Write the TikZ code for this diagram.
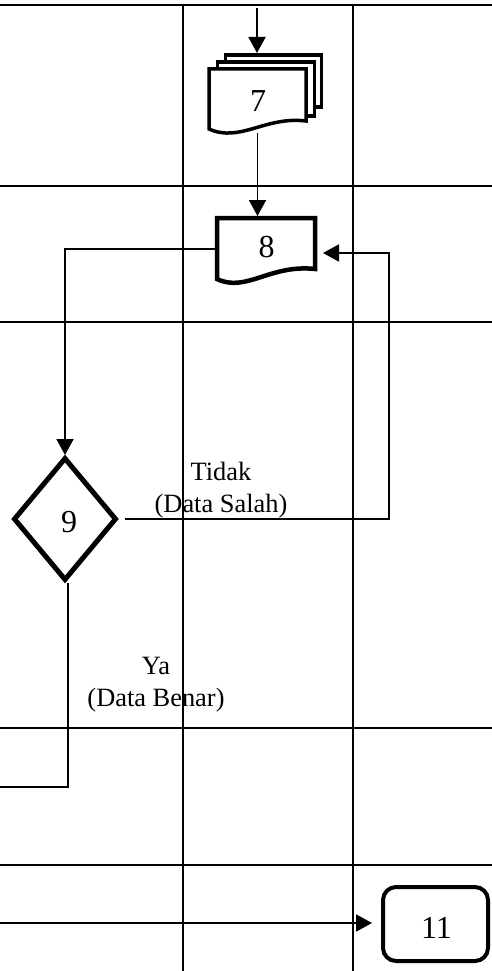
\documentclass[tikz,border=0pt]{standalone}
\usepackage{fontspec}
\setmainfont{Liberation Serif}
\usetikzlibrary{arrows.meta,shapes.geometric}
\begin{document}
\begin{tikzpicture}[x=1pt,y=-1pt,
  gridline/.style={line width=1.6pt},
  conn/.style={line width=1.9pt},
  arr/.style={conn,-{Triangle[length=16pt,width=17pt]}},
  lbl/.style={font=\fontsize{26.4pt}{32pt}\selectfont, align=center, inner sep=0pt},
  num/.style={font=\fontsize{32pt}{36pt}\selectfont, inner sep=0pt},
  hidden/.style={draw=none, inner sep=0pt, outer sep=0pt},
  docA/.style={line width=3.5pt, line join=miter, fill=white},
  docB/.style={line width=4.5pt, line join=miter, fill=white}]
\useasboundingbox (0,0) rectangle (492,971);
% grid
\draw[gridline] (0,5) -- (492,5);
\draw[gridline] (0,186) -- (492,186);
\draw[gridline] (0,322) -- (492,322);
\draw[gridline] (0,728) -- (492,728);
\draw[gridline] (0,865) -- (492,865);
\draw[gridline] (183,5) -- (183,971);
\draw[gridline] (353,5) -- (353,971);
% document 7 (multi-document)
\draw[docA] (225.5,55) rectangle (321.5,107);
\draw[docA] (217.5,62) rectangle (314.5,116);
\draw[docA] (209,129) -- (209,69) -- (306,69) -- (306,121)
  .. controls (265,116) and (240,143) .. (209,129) -- cycle;
\node[hidden, minimum width=101pt, minimum height=66pt] (d7) at (257.5,100) {};
\node[hidden, minimum width=99pt, minimum height=55pt] (d7b) at (273.5,80.5) {};
\node[num] (n7) at (258,101) {7};
% document 8
\draw[docB] (217,279) -- (217,218) -- (315,218) -- (315,269)
  .. controls (270,264) and (246,293) .. (217,279) -- cycle;
\node[hidden, minimum width=102pt, minimum height=69pt] (d8) at (266,250.5) {};
\node[num] (n8) at (266.5,246.7) {8};
% decision 9
\node[draw, diamond, line width=5pt, line join=miter, minimum width=103pt, minimum height=123pt, inner sep=0pt] (d9) at (65,519) {};
\node[num] (n9) at (69,522.5) {9};
% terminal 11
\node[draw, rectangle, rounded corners=13pt, line width=4pt, minimum width=105pt, minimum height=74pt, inner sep=0pt] (d11) at (435.5,924) {};
\node[num] (n11) at (436.5,928) {11};
% free ends
\coordinate (in7) at (257,8);
\coordinate (rc) at (389,519);
\coordinate (bl) at (0,787);
\coordinate (bl2) at (0,923);
% connectors
\draw[arr] (in7) -- (in7 |- d7b.north);
\draw[arr] (d7.south) -- (d7.south |- d8.north);
\draw[arr] ([yshift=1.5pt]d8.west) -| (d9.north);
\draw[arr, shorten <=6pt, shorten >=6pt] (d9.east) -- (rc) |- ([yshift=-2.5pt]d8.east);
\draw[conn] ([xshift=3pt]d9.south) |- (bl);
\draw[arr, shorten >=9pt] (bl2) -- (bl2 -| d11.west);
% labels
\node[lbl] (t1) at (221,490) {Tidak\\(Data Salah)};
\node[lbl] (t2) at (156,685) {Ya\\(Data Benar)};
\end{tikzpicture}
\end{document}
